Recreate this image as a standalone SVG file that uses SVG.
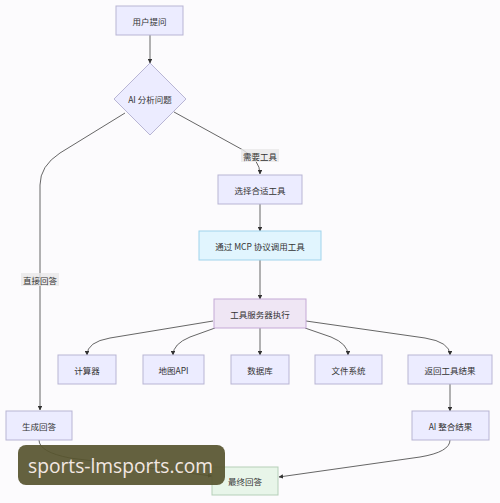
<svg xmlns="http://www.w3.org/2000/svg" width="500" height="503" viewBox="0 0 500 503">
<defs>
<marker id="arr" viewBox="0 0 10 10" refX="9" refY="5" markerWidth="5" markerHeight="5" orient="auto-start-reverse"><path d="M0,0 L10,5 L0,10 z" fill="#333"/></marker>
<style>
.n rect,.n polygon{fill:#ececff;stroke:#b8b5d4;stroke-width:1}
.t{font-family:"Noto Sans CJK SC","Noto Sans",sans-serif;font-size:8.5px;fill:#333;text-anchor:middle;dominant-baseline:central}
.e{fill:none;stroke:#555;stroke-width:0.9;marker-end:url(#arr)}
.lb{fill:#e8e8e8;opacity:0.8}
</style>
</defs>
<rect width="500" height="503" fill="#fcfbfd"/>
<g id="edges">
<path class="e" d="M150,35 L150,63"/>
<path class="e" d="M125,113 L60,153 Q40,166 40,185 L40,410"/>
<path class="e" d="M174,112 L243,150 Q260,160 260,174"/>
<path class="e" d="M260,204 L260,231"/>
<path class="e" d="M260,260 L260,299"/>
<path class="e" d="M213,321 L110,338 Q87,342 87,355"/>
<path class="e" d="M215,328 L190,337 Q173,344 173,355"/>
<path class="e" d="M260,328 L260,355"/>
<path class="e" d="M305,328 L331,337 Q348,344 348,355"/>
<path class="e" d="M306,321 L425,338 Q450,342 450,355"/>
<path class="e" d="M450,384 L450,411"/>
<path class="e" d="M39,440 Q39,452 70,458 L212,476"/>
<path class="e" d="M450,440 Q450,452 420,457 L279,477"/>
<rect class="lb" x="241" y="149" width="38" height="13"/>
<text class="t" x="260" y="155.5">需要工具</text>
<rect class="lb" x="21" y="273" width="38" height="13"/>
<text class="t" x="40" y="279.5">直接回答</text>
</g>
<g id="n1" class="n"><rect x="116" y="6" width="67" height="29"/><text class="t" x="149.5" y="20.5">用户提问</text></g>
<g id="n2" class="n"><polygon points="150,63 186,99 150,135 114,99"/><text class="t" x="150" y="99">AI 分析问题</text></g>
<g id="n3" class="n"><rect x="218" y="175" width="84" height="29"/><text class="t" x="260" y="189.5">选择合适工具</text></g>
<g id="n4"><rect x="199" y="231" width="122" height="29" fill="#e1f5fe" stroke="#9fd3ec"/><text class="t" x="260" y="245.5">通过 MCP 协议调用工具</text></g>
<g id="n5"><rect x="214" y="299" width="92" height="29" fill="#efe6f4" stroke="#c4a9d6"/><text class="t" x="260" y="313.5">工具服务器执行</text></g>
<g id="n6" class="n"><rect x="58" y="355" width="58" height="29"/><text class="t" x="87" y="369.5">计算器</text></g>
<g id="n7" class="n"><rect x="143" y="355" width="61" height="29"/><text class="t" x="173.5" y="369.5">地图API</text></g>
<g id="n8" class="n"><rect x="231" y="355" width="58" height="29"/><text class="t" x="260" y="369.5">数据库</text></g>
<g id="n9" class="n"><rect x="315" y="355" width="67" height="29"/><text class="t" x="348.5" y="369.5">文件系统</text></g>
<g id="n10" class="n"><rect x="408" y="355" width="84" height="29"/><text class="t" x="450" y="369.5">返回工具结果</text></g>
<g id="n11" class="n"><rect x="6" y="411" width="66" height="29"/><text class="t" x="39" y="425.5">生成回答</text></g>
<g id="n12" class="n"><rect x="412" y="411" width="77" height="29"/><text class="t" x="450.5" y="425.5">AI 整合结果</text></g>
<g id="n13"><rect x="212" y="467" width="66" height="28" fill="#e8f5e9" stroke="#b5cfb8"/><text class="t" x="245" y="481">最终回答</text></g>
<g id="watermark" opacity="0.92">
<rect x="18" y="445" width="207" height="40" rx="8" fill="#58552f"/>
<text x="28" y="473" font-family="'Open Sans','DejaVu Sans',sans-serif" font-size="20" textLength="185" lengthAdjust="spacingAndGlyphs" fill="#f2e6e0">sports-lmsports.com</text>
</g>
</svg>
